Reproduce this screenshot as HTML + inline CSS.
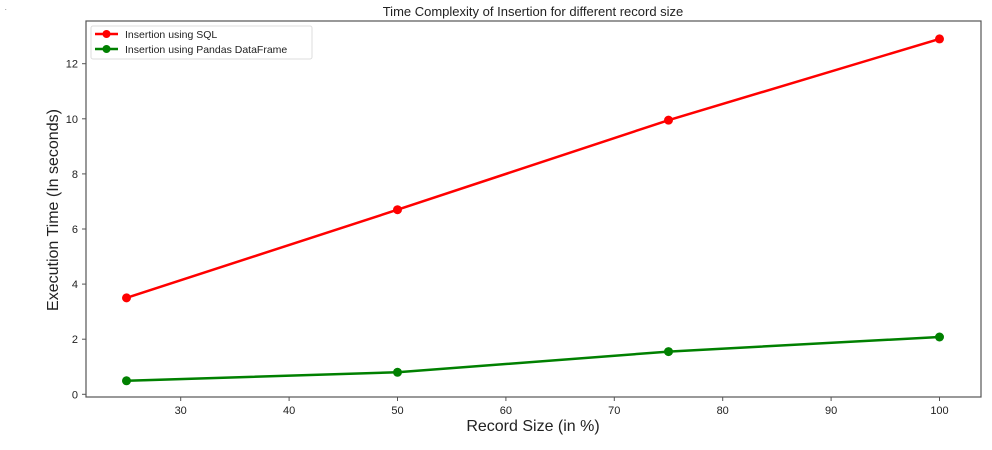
<!DOCTYPE html>
<html><head><meta charset="utf-8"><style>
body{margin:0;background:#fff;}
svg text{font-family:"Liberation Sans","DejaVu Sans",sans-serif;fill:#222;}
</style></head><body>
<svg id="chart" width="992" height="445">
<text x="533" y="16" font-size="13" text-anchor="middle">Time Complexity of Insertion for different record size</text>
<text x="5" y="10" font-size="6">.</text>
<g id="axes"></g>
<g id="series"></g>
<text x="533" y="431" font-size="16" text-anchor="middle">Record Size (in %)</text>
<text transform="translate(58,210) rotate(-90)" font-size="16" text-anchor="middle">Execution Time (In seconds)</text>
<g>
<rect x="91" y="26" width="221" height="33" fill="#fff" stroke="#ddd" rx="2"/>
<line x1="95" y1="34" x2="118" y2="34" stroke="#ff0000" stroke-width="2.5"/><circle cx="106.5" cy="34" r="4" fill="#ff0000"/>
<text x="125" y="38" font-size="10.5">Insertion using SQL</text>
<line x1="95" y1="49" x2="118" y2="49" stroke="#008000" stroke-width="2.5"/><circle cx="106.5" cy="49" r="4" fill="#008000"/>
<text x="125" y="53" font-size="10.5">Insertion using Pandas DataFrame</text>
</g>
</svg>
<script>
const categories=[25,50,75,100];
const sqlValues=[3.5,6.7,9.95,12.9];
const pandasValues=[0.49,0.8,1.55,2.08];
const xTicks=[30,40,50,60,70,80,90,100];
const yTicks=[0,2,4,6,8,10,12];
const NS="http://www.w3.org/2000/svg";
const L=86,R=981,T=21,B=397;
function x(v){return 180.7+(v-30)*10.84;}
function y(v){return 394.3-v*27.55;}
function mk(t,a,p){const e=document.createElementNS(NS,t);for(const k in a)e.setAttribute(k,a[k]);p.appendChild(e);return e;}
const ax=document.getElementById('axes');
const frame=mk('rect',{x:L,y:T,width:R-L,height:B-T,fill:'none',stroke:'#555','stroke-width':1.2},ax);


xTicks.forEach(v=>{
 mk('line',{x1:x(v),x2:x(v),y1:B,y2:B+4,stroke:'#555'},ax);
 const t=mk('text',{x:x(v),y:B+17,'font-size':11,'text-anchor':'middle'},ax);t.textContent=v;
 
 
});
yTicks.forEach(v=>{
 mk('line',{x1:L-4,x2:L,y1:y(v),y2:y(v),stroke:'#555'},ax);
 const t=mk('text',{x:L-8,y:y(v)+4,'font-size':11,'text-anchor':'end'},ax);t.textContent=v;
 
 
});
const sg=document.getElementById('series');
function series(vals,color,name){
 const pl=mk('polyline',{points:categories.map((c,i)=>x(c)+','+y(vals[i])).join(' '),fill:'none',stroke:color,'stroke-width':2.5},sg);
 
 
 categories.forEach((c,i)=>{
  const p=mk('circle',{cx:x(c),cy:y(vals[i]),r:4.5,fill:color},sg);
  
  
 });
}
series(sqlValues,'#ff0000','sql');
series(pandasValues,'#008000','pandas');
</script>
</body></html>
